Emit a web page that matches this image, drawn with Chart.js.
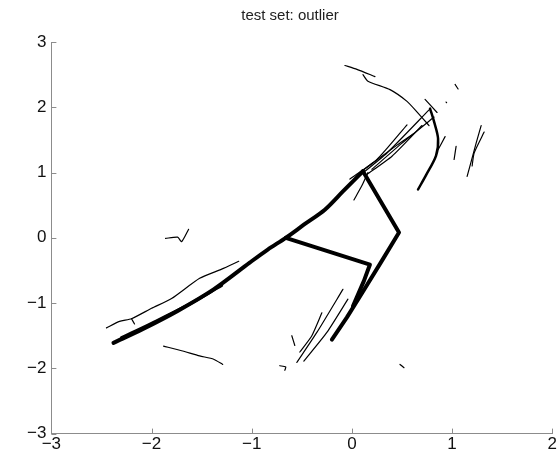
<!DOCTYPE html>
<html>
<head>
<meta charset="utf-8">
<script src="https://cdn.jsdelivr.net/npm/chart.js@4"></script>
<style>
  html, body { margin: 0; padding: 0; background: #fff; overflow: hidden; }
  #wrap { width: 558px; height: 461px; }
</style>
</head>
<body>
<div id="wrap"><canvas id="plot" width="558" height="461"></canvas></div>
<script>
// axis ranges and ticks
const xTicks = [-3, -2, -1, 0, 1, 2];
const yTicks = [-3, -2, -1, 0, 1, 2, 3];

// thick skeleton strokes
const mainCurve = [[-2.38,-1.61],[-2.09,-1.40],[-1.74,-1.12],[-1.38,-0.79],[-1.02,-0.38],[-0.84,-0.18],[-0.66,0.0],[-0.48,0.20],[-0.27,0.43],[-0.09,0.71],[0.11,1.02]];
const mainEdge = [[-2.30,-1.53],[-2.0,-1.31],[-1.65,-1.04],[-1.30,-0.73]];
const rightBranch = [[0.11,1.02],[0.47,0.08],[0.30,-0.35],[0.10,-0.85],[-0.05,-1.22],[-0.20,-1.56]];
const crossBranch = [[-0.66,0.0],[0.18,-0.41],[0.12,-0.66],[0.01,-1.05]];

// thin traced strokes
const leftTrace = [[-2.45,-1.38],[-2.32,-1.28],[-2.2,-1.24],[-2.0,-1.08],[-1.8,-0.93],[-1.52,-0.62],[-1.3,-0.48],[-1.13,-0.36]];
const leftLink = [[-2.2,-1.24],[-2.17,-1.32]];
const squiggle = [[-1.86,-0.01],[-1.74,0.01],[-1.70,-0.06],[-1.63,0.13]];
const lowLeft = [[-1.88,-1.66],[-1.70,-1.73],[-1.52,-1.81],[-1.38,-1.86],[-1.29,-1.94]];
const topArcA = [[-0.07,2.64],[0.05,2.58],[0.23,2.47]];
const topArcB = [[0.11,2.50],[0.16,2.40],[0.38,2.27],[0.55,2.09],[0.66,1.91],[0.77,1.72]];
const hook = [[0.78,1.98],[0.82,1.78],[0.86,1.52],[0.84,1.26],[0.74,0.96],[0.66,0.74]];
const diagA = [[-0.02,0.90],[0.25,1.20],[0.55,1.73]];
const diagB = [[0.05,0.92],[0.35,1.30],[0.77,1.96]];
const diagC = [[0.13,0.95],[0.40,1.25],[0.70,1.72]];
const diagD = [[0.20,1.05],[0.50,1.45],[0.82,1.85]];
const diagE = [[0.02,0.58],[0.10,0.80],[0.16,1.0]];
const diagF = [[0.08,1.00],[0.45,1.42],[0.62,1.60]];
const tipA = [[0.73,2.12],[0.85,1.92]];
const tipB = [[1.03,2.35],[1.06,2.28]];
const tipDot = [[0.94,2.08],[0.945,2.07]];
const hookSide = [[0.86,1.35],[0.93,1.55]];
const rightA = [[1.04,1.40],[1.02,1.20]];
const rightB = [[1.29,1.72],[1.24,1.45],[1.15,0.94]];
const rightC = [[1.32,1.62],[1.22,1.30],[1.20,1.10]];
const lowA = [[-0.55,-1.91],[-0.35,-1.45],[-0.09,-0.79]];
const lowB = [[-0.48,-1.89],[-0.25,-1.45],[-0.04,-0.94]];
const lowC = [[-0.52,-1.75],[-0.40,-1.50],[-0.30,-1.15]];
const lowD = [[-0.60,-1.50],[-0.57,-1.65]];
const lowE = [[-0.72,-1.96],[-0.66,-1.98],[-0.67,-2.03]];
const lowDot = [[0.48,-1.94],[0.52,-1.99]];

// width and smoothing for each stroke
const strokes = [
    { pts: mainCurve, w: 4, t: 0.3 },
    { pts: mainEdge, w: 3, t: 0.3 },
    { pts: rightBranch, w: 4, t: 0 },
    { pts: crossBranch, w: 4, t: 0 },
    { pts: hook, w: 2.5, t: 0.3 },
];
[leftTrace, leftLink, squiggle, lowLeft, topArcA, topArcB, diagA, diagB, diagC, diagD, diagE, diagF,
 tipA, tipB, tipDot, hookSide, rightA, rightB, rightC, lowA, lowB, lowC, lowD, lowE, lowDot]
    .forEach(pts => strokes.push({ pts: pts, w: 1.2, t: 0.2 }));

const datasets = strokes.map(s => ({
    data: s.pts.map(p => ({ x: p[0], y: p[1] })),
    showLine: true,
    borderColor: '#000',
    borderWidth: s.w,
    borderCapStyle: 'round',
    borderJoinStyle: 'round',
    pointRadius: 0,
    tension: s.t,
}));

const axisColor = '#8c8c8c';
const fmt = v => (v < 0 ? '\u2212' + Math.abs(v) : String(v));

// MATLAB style ticks pointing into the plot
const innerTicks = {
    id: 'innerTicks',
    afterDraw(chart) {
        const { ctx, chartArea, scales } = chart;
        ctx.save();
        ctx.strokeStyle = axisColor;
        ctx.lineWidth = 1;
        ctx.beginPath();
        xTicks.forEach(v => {
            const px = Math.round(scales.x.getPixelForValue(v)) + 0.5;
            ctx.moveTo(px, chartArea.bottom);
            ctx.lineTo(px, chartArea.bottom - 5);
        });
        yTicks.forEach(v => {
            const py = Math.round(scales.y.getPixelForValue(v)) + 0.5;
            ctx.moveTo(chartArea.left, py);
            ctx.lineTo(chartArea.left + 5, py);
        });
        ctx.stroke();
        ctx.restore();
    }
};

new Chart(document.getElementById('plot'), {
    type: 'scatter',
    data: { datasets },
    options: {
        responsive: false,
        animation: false,
        layout: { padding: { top: 2, right: 0, left: 22, bottom: 5 } },
        plugins: {
            legend: { display: false },
            tooltip: { enabled: false },
            title: {
                display: true,
                text: 'test set: outlier',
                color: '#222',
                font: { family: 'Liberation Sans, Arial, sans-serif', size: 15, weight: 'normal' },
                padding: { top: 5, bottom: 17 }
            }
        },
        scales: {
            x: {
                type: 'linear',
                min: -3, max: 2,
                afterBuildTicks: s => { s.ticks = xTicks.map(v => ({ value: v })); },
                ticks: {
                    callback: fmt,
                    color: '#111',
                    padding: 1,
                    maxRotation: 0,
                    font: { family: 'Liberation Sans, Arial, sans-serif', size: 17 }
                },
                grid: { display: false, drawTicks: false },
                border: { display: true, color: axisColor, width: 1 }
            },
            y: {
                type: 'linear',
                min: -3, max: 3,
                afterBuildTicks: s => { s.ticks = yTicks.map(v => ({ value: v })); },
                ticks: {
                    callback: fmt,
                    color: '#111',
                    padding: 5,
                    font: { family: 'Liberation Sans, Arial, sans-serif', size: 17 }
                },
                grid: { display: false, drawTicks: false },
                border: { display: true, color: axisColor, width: 1 }
            }
        }
    },
    plugins: [innerTicks]
});
</script>
</body>
</html>
